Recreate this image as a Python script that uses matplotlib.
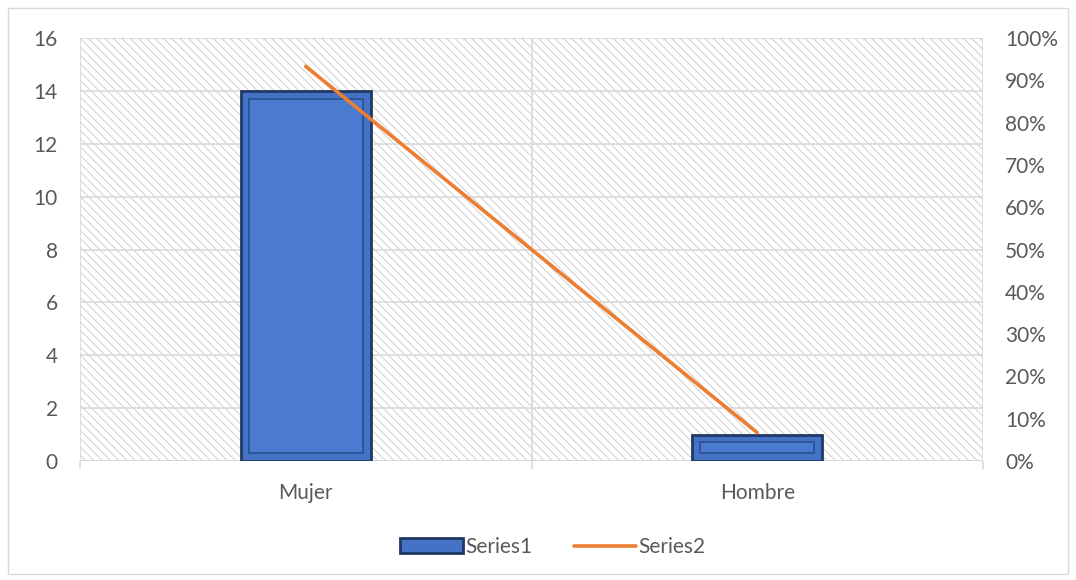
import matplotlib
matplotlib.use("Agg")
import numpy as np
from matplotlib import pyplot as plt
from matplotlib.patches import Rectangle
from matplotlib.ticker import PercentFormatter

categories = ["Mujer", "Hombre"]
series1 = [14, 1]
series2 = [0.933, 0.067]

plt.rcParams['font.family'] = ['Lato', 'DejaVu Sans']
plt.rcParams['hatch.linewidth'] = 0.6
plt.rcParams['hatch.color'] = '#C8C8C8'

txt = '#595959'
grid = '#D9D9D9'
blue = '#4472C4'
dark = '#1F3864'
orange = '#ED7D31'
fs = 15

fig = plt.figure(figsize=(10.76, 5.8), dpi=100)
fig.patches.append(Rectangle((8 / 1076, 6 / 580), 1060 / 1076, 566 / 580,
                             transform=fig.transFigure, fill=False,
                             edgecolor='#D9D9D9', linewidth=1))
ax = fig.add_axes([80 / 1076, 1 - 461 / 580, 903 / 1076, 423 / 580])
x = np.arange(len(categories))

# fond hachuré
ax.add_patch(Rectangle((0, 0), 1, 1, transform=ax.transAxes, facecolor='white',
                       hatch='\\\\\\\\', edgecolor='#C8C8C8', linewidth=0, zorder=0))

ax.set_xlim(-0.5, 1.5)
ax.set_ylim(0, 16)
ax.set_yticks(range(0, 17, 2))
for y in range(2, 17, 2):
    ax.axhline(y, color=grid, linewidth=1.2, zorder=1)
for xv in (-0.5, 0.5, 1.5):
    ax.axvline(xv, color=grid, linewidth=1.2, zorder=1)
ax.axhline(0, color='#D0D0D0', linewidth=1.2, zorder=1)

w = 0.288
ax.bar(x, series1, width=w, color=blue, edgecolor=dark, linewidth=2.0, zorder=3,
       label='Series1')
# effet biseau
bev = 0.3
inner = [max(v - 2 * bev, 0.05) for v in series1]
ax.bar(x, inner, bottom=bev, width=w - 0.035, color='#4A7BD0', edgecolor='#2F5597',
       linewidth=1.4, zorder=4)

for s in ax.spines.values():
    s.set_visible(False)
ax.tick_params(axis='y', length=0, colors=txt, labelsize=fs, pad=16)
ax.set_xticks(x)
ax.set_xticklabels(categories)
ax.tick_params(axis='x', which='major', length=0, colors=txt, labelsize=fs, pad=16)
ax.set_xticks([-0.5, 0.5, 1.5], minor=True)
ax.tick_params(axis='x', which='minor', length=6, width=1.2, color=grid, direction='out')

ax2 = ax.twinx()
ax2.set_ylim(0, 1)
ax2.set_yticks(np.arange(0, 1.01, 0.1))
ax2.yaxis.set_major_formatter(PercentFormatter(1, decimals=0))
ax2.plot(x, series2, color=orange, linewidth=2.6, zorder=5, label='Series2',
         solid_capstyle='round')
for s in ax2.spines.values():
    s.set_visible(False)
ax2.tick_params(length=0, colors=txt, labelsize=fs, pad=16)

h1, l1 = ax.get_legend_handles_labels()
h2, l2 = ax2.get_legend_handles_labels()
leg = fig.legend(h1 + h2, l1 + l2, loc='center', bbox_to_anchor=(553 / 1076, 1 - 547 / 580),
                 ncol=2, frameon=False, fontsize=fs, labelcolor=txt,
                 handlelength=3.0, handletextpad=0.1, columnspacing=2.0)

fig.savefig('out.png', dpi=100)
